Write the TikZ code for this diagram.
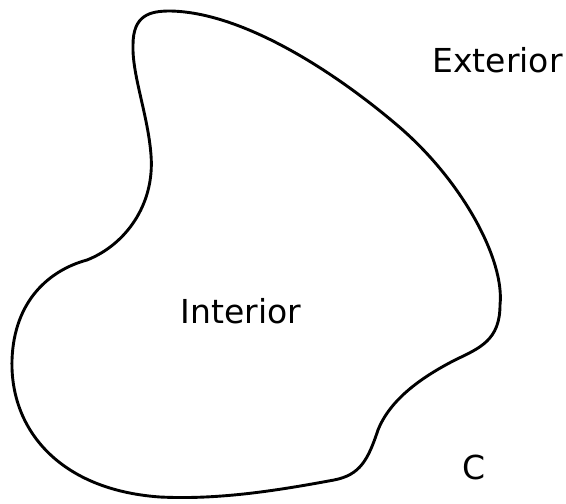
\documentclass[tikz,border=0pt]{standalone}
\usepackage{fontspec}
\setmainfont{DejaVu Sans}
\begin{document}
\begin{tikzpicture}[x=1pt,y=-1pt,
  curve/.style={line width=2.9pt,line join=round,line cap=round},
  lbl/.style={inner sep=0pt,anchor=base,font=\fontsize{33}{40}\selectfont}]
\useasboundingbox (0,0) rectangle (566,504);
\draw[curve] (87,260)
  .. controls (125,245) and (155,205) .. (151,155)
  .. controls (148,115) and (132,75) .. (133,45)
  .. controls (133,15) and (150,11) .. (170,11)
  .. controls (240,12) and (330,68) .. (397,125)
  .. controls (462,180) and (505,260) .. (500,305)
  .. controls (500,340) and (480,348) .. (455,360)
  .. controls (420,378) and (390,400) .. (378,430)
  .. controls (368,460) and (360,475) .. (334,480)
  .. controls (280,490) and (220,500) .. (160,497)
  .. controls (60,490) and (10,430) .. (12,360)
  .. controls (14,300) and (50,270) .. (87,260) -- cycle;
\node[lbl] (ext) at (497.5,72.5) {Exterior};
\node[lbl] (int) at (241,323) {Interior};
\node[lbl] (c) at (474,479) {C};
\end{tikzpicture}
\end{document}
